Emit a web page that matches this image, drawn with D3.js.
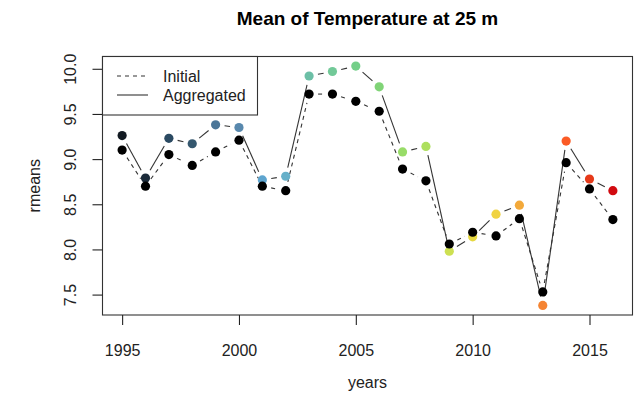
<!DOCTYPE html>
<html>
<head>
<meta charset="utf-8">
<script src="https://cdn.jsdelivr.net/npm/d3@7"></script>
<style>
  html, body { margin: 0; padding: 0; background: #fff; }
  svg { display: block; font-family: "Liberation Sans", Arial, sans-serif; }
</style>
</head>
<body>
<svg id="chart" width="641" height="393"></svg>
<script>
// Yearly mean temperature at 25 m
const years = [1995, 1996, 1997, 1998, 1999, 2000, 2001, 2002, 2003, 2004, 2005,
               2006, 2007, 2008, 2009, 2010, 2011, 2012, 2013, 2014, 2015, 2016];
const initial = [9.10, 8.70, 9.05, 8.93, 9.08, 9.21, 8.70, 8.65, 9.72, 9.72, 9.64,
                 9.53, 8.89, 8.76, 8.06, 8.19, 8.15, 8.34, 7.53, 8.96, 8.67, 8.33];
const aggregated = [9.26, 8.79, 9.23, 9.17, 9.38, 9.35, 8.77, 8.81, 9.92, 9.97, 10.03,
                    9.80, 9.08, 9.14, 7.98, 8.14, 8.39, 8.49, 7.38, 9.20, 8.78, 8.65];
const yearColors = ["#121a22", "#1c2b3a", "#2b4a62", "#35586f", "#4a7597", "#5888ad",
                    "#5ea5cf", "#67b0c9", "#6cbfa6", "#72c998", "#74cf89", "#80d477",
                    "#98dc68", "#addf5e", "#cde052", "#e6d840", "#f0d342", "#f3a93a",
                    "#f58432", "#fb5b25", "#e63a1a", "#d10a10"];
const xTicks = [1995, 2000, 2005, 2010, 2015];
const yTicks = [7.5, 8.0, 8.5, 9.0, 9.5, 10.0];
const legendLabels = ["Initial", "Aggregated"];

const svg = d3.select("#chart");
const plot = { left: 102.5, right: 632.5, top: 56.5, bottom: 315 };

// axis ranges padded by 4% on each side
function padded(vals) {
  const [lo, hi] = d3.extent(vals);
  const p = (hi - lo) * 0.04;
  return [lo - p, hi + p];
}
const x = d3.scaleLinear().domain(padded(years)).range([plot.left, plot.right]);
const y = d3.scaleLinear().domain(padded(initial.concat(aggregated))).range([plot.bottom, plot.top]);

const ink = "#222";

// connecting segments with a gap around each point
function gappedSegments(vals, gap) {
  const segs = [];
  for (let i = 0; i < vals.length - 1; i++) {
    const x0 = x(years[i]), y0 = y(vals[i]);
    const x1 = x(years[i + 1]), y1 = y(vals[i + 1]);
    const len = Math.hypot(x1 - x0, y1 - y0);
    if (len <= 2 * gap) continue;
    const ux = (x1 - x0) / len, uy = (y1 - y0) / len;
    segs.push([x0 + ux * gap, y0 + uy * gap, x1 - ux * gap, y1 - uy * gap]);
  }
  return segs;
}

const gap = 9;
svg.append("g").selectAll("line")
  .data(gappedSegments(aggregated, gap)).join("line")
  .attr("x1", d => d[0]).attr("y1", d => d[1]).attr("x2", d => d[2]).attr("y2", d => d[3])
  .attr("stroke", "#333").attr("stroke-width", 1.1);

svg.append("g").selectAll("line")
  .data(gappedSegments(initial, gap)).join("line")
  .attr("x1", d => d[0]).attr("y1", d => d[1]).attr("x2", d => d[2]).attr("y2", d => d[3])
  .attr("stroke", "#333").attr("stroke-width", 1.1).attr("stroke-dasharray", "4,4");

// aggregated points coloured by year, initial points in black on top
svg.append("g").selectAll("circle")
  .data(aggregated).join("circle")
  .attr("cx", (d, i) => x(years[i])).attr("cy", d => y(d)).attr("r", 4.6)
  .attr("fill", (d, i) => yearColors[i]);

svg.append("g").selectAll("circle")
  .data(initial).join("circle")
  .attr("cx", (d, i) => x(years[i])).attr("cy", d => y(d)).attr("r", 4.6)
  .attr("fill", "#000");

// plot frame
svg.append("rect")
  .attr("x", plot.left).attr("y", plot.top)
  .attr("width", plot.right - plot.left).attr("height", plot.bottom - plot.top)
  .attr("fill", "none").attr("stroke", "#333").attr("stroke-width", 1.1);

// x axis
const xAxis = svg.append("g")
  .attr("transform", `translate(0,${plot.bottom})`)
  .call(d3.axisBottom(x).tickValues(xTicks).tickFormat(d3.format("d")).tickSize(10).tickPadding(20));
xAxis.select(".domain").remove();
xAxis.selectAll("line").attr("stroke", ink).attr("stroke-width", 1.1);
xAxis.selectAll("text").attr("fill", ink).attr("font-size", 16)
  .attr("font-family", "Liberation Sans, Arial, sans-serif");

// y axis with labels rotated parallel to the axis
const yAxis = svg.append("g")
  .attr("transform", `translate(${plot.left},0)`)
  .call(d3.axisLeft(y).tickValues(yTicks).tickFormat(d3.format(".1f")).tickSize(10));
yAxis.select(".domain").remove();
yAxis.selectAll("line").attr("stroke", ink).attr("stroke-width", 1.1);
yAxis.selectAll("text")
  .attr("fill", ink).attr("font-size", 16)
  .attr("font-family", "Liberation Sans, Arial, sans-serif")
  .attr("x", null).attr("dy", null)
  .attr("text-anchor", "middle")
  .attr("transform", "translate(-27,0) rotate(-90)");

// titles
svg.append("text")
  .attr("x", (plot.left + plot.right) / 2).attr("y", 25)
  .attr("text-anchor", "middle").attr("font-size", 19).attr("font-weight", "bold")
  .attr("fill", "#000").text("Mean of Temperature at 25 m");

svg.append("text")
  .attr("x", (plot.left + plot.right) / 2).attr("y", 388)
  .attr("text-anchor", "middle").attr("font-size", 16).attr("fill", ink).text("years");

svg.append("text")
  .attr("transform", `translate(40,${(plot.top + plot.bottom) / 2}) rotate(-90)`)
  .attr("text-anchor", "middle").attr("font-size", 16).attr("fill", ink).text("rmeans");

// legend
const lg = svg.append("g");
lg.append("rect")
  .attr("x", plot.left).attr("y", plot.top).attr("width", 155).attr("height", 58.5)
  .attr("fill", "#fff").attr("stroke", "#333").attr("stroke-width", 1.1);
const legendRows = [
  { label: legendLabels[0], dash: "4,4", yy: 76 },
  { label: legendLabels[1], dash: null, yy: 95 }
];
legendRows.forEach(r => {
  lg.append("line")
    .attr("x1", 117).attr("x2", 148).attr("y1", r.yy).attr("y2", r.yy)
    .attr("stroke", "#333").attr("stroke-width", 1.1)
    .attr("stroke-dasharray", r.dash);
  lg.append("text")
    .attr("x", 163).attr("y", r.yy + 5.5).attr("font-size", 16).attr("fill", ink)
    .text(r.label);
});
</script>
</body>
</html>
